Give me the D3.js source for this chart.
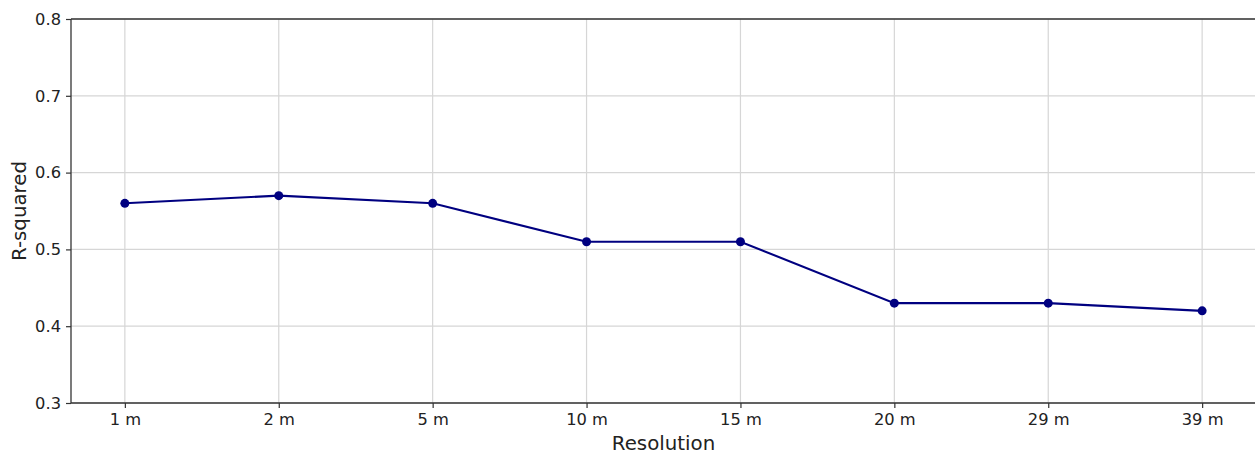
<!DOCTYPE html>
<html>
<head>
<meta charset="utf-8">
<script src="https://cdn.jsdelivr.net/npm/d3@7"></script>
<style>
  body { margin: 0; background: #fff; }
  text { font-family: "DejaVu Sans", sans-serif; fill: #222; }
</style>
</head>
<body>
<div id="chart"></div>
<script>
// values
var resolutions = ["1 m", "2 m", "5 m", "10 m", "15 m", "20 m", "29 m", "39 m"];
var rSquared = [0.56, 0.57, 0.56, 0.51, 0.51, 0.43, 0.43, 0.42];
var yTicks = [0.3, 0.4, 0.5, 0.6, 0.7, 0.8];

var width = 1255;
var height = 454;
var plotLeft = 71, plotRight = 1256, plotTop = 19, plotBottom = 403;

var svg = d3.select("#chart").append("svg")
            .attr("width", width)
            .attr("height", height);

var x = d3.scalePoint()
          .domain(resolutions)
          .range([plotLeft, plotRight])
          .padding(0.35);

var y = d3.scaleLinear()
          .domain([0.3, 0.8])
          .range([plotBottom, plotTop]);

// grid
svg.append("g")
   .selectAll("line")
   .data(yTicks)
   .enter()
   .append("line")
   .attr("x1", plotLeft).attr("x2", plotRight)
   .attr("y1", function(d) { return y(d); })
   .attr("y2", function(d) { return y(d); })
   .attr("stroke", "#d6d6d6")
   .attr("stroke-width", 1.2);

svg.append("g")
   .selectAll("line")
   .data(resolutions)
   .enter()
   .append("line")
   .attr("x1", function(d) { return x(d); })
   .attr("x2", function(d) { return x(d); })
   .attr("y1", plotTop).attr("y2", plotBottom)
   .attr("stroke", "#d6d6d6")
   .attr("stroke-width", 1.2);

// axes
var xAxis = svg.append("g")
   .attr("transform", "translate(0," + plotBottom + ")")
   .call(d3.axisBottom(x).tickSize(5).tickPadding(5));

var yAxis = svg.append("g")
   .attr("transform", "translate(" + plotLeft + ",0)")
   .call(d3.axisLeft(y).tickValues(yTicks).tickFormat(d3.format(".1f")).tickSize(5).tickPadding(5));

[xAxis, yAxis].forEach(function(a) {
  a.select(".domain").attr("stroke", "#333").attr("stroke-width", 1.3);
  a.selectAll(".tick line").attr("stroke", "#333").attr("stroke-width", 1.2);
  a.selectAll(".tick text").style("font-size", "16.3px").attr("fill", "#222");
});
xAxis.select(".domain").attr("d", "M" + plotLeft + ",0H" + plotRight);
yAxis.select(".domain").attr("d", "M0," + plotBottom + "V" + plotTop);

// top spine
svg.append("line")
   .attr("x1", plotLeft).attr("x2", plotRight)
   .attr("y1", plotTop).attr("y2", plotTop)
   .attr("stroke", "#333")
   .attr("stroke-width", 1.3);

// line + markers
var line = d3.line()
             .x(function(d, i) { return x(resolutions[i]); })
             .y(function(d) { return y(d); });

svg.append("path")
   .datum(rSquared)
   .attr("d", line)
   .attr("fill", "none")
   .attr("stroke", "#000080")
   .attr("stroke-width", 2.1);

svg.selectAll("circle.pt")
   .data(rSquared)
   .enter()
   .append("circle")
   .attr("class", "pt")
   .attr("cx", function(d, i) { return x(resolutions[i]); })
   .attr("cy", function(d) { return y(d); })
   .attr("r", 4.5)
   .attr("fill", "#000080");

// labels
svg.append("text")
   .attr("x", (plotLeft + plotRight) / 2)
   .attr("y", 450)
   .attr("text-anchor", "middle")
   .style("font-size", "19.8px")
   .text("Resolution");

svg.append("text")
   .attr("transform", "translate(26," + ((plotTop + plotBottom) / 2) + ") rotate(-90)")
   .attr("text-anchor", "middle")
   .style("font-size", "19.8px")
   .text("R-squared");
</script>
</body>
</html>
